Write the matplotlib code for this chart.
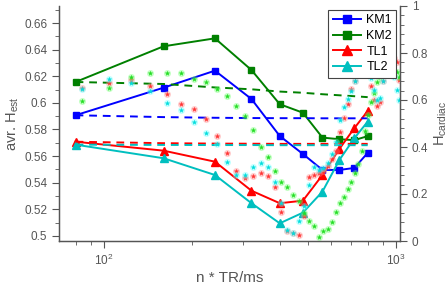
import matplotlib
matplotlib.use("Agg")
import matplotlib.pyplot as plt
from matplotlib.ticker import FixedLocator, MultipleLocator, LogLocator, NullFormatter

plt.rcParams['font.family'] = ['Liberation Sans', 'DejaVu Sans']

# ---- data ----
n_tr = [80, 160, 240, 320, 400, 480, 560, 640, 720, 800]
km1 = [0.5907, 0.6114, 0.6242, 0.6029, 0.5751, 0.5616, 0.5496, 0.5496, 0.5511, 0.5624]
km2 = [0.6157, 0.6425, 0.6485, 0.6247, 0.5990, 0.5926, 0.5739, 0.5727, 0.5720, 0.5750]
tl1 = [0.5708, 0.5641, 0.5558, 0.5340, 0.5246, 0.5265, 0.5458, 0.5654, 0.5810, 0.5939]
tl2 = [0.5686, 0.5584, 0.5458, 0.5246, 0.5095, 0.5175, 0.5333, 0.5571, 0.5734, 0.5859]

km1_mean = [0.5907, 0.5893, 0.5888, 0.5886, 0.5885, 0.5885, 0.5884, 0.5884, 0.5884, 0.5884]
km2_mean = [0.6157, 0.6142, 0.6116, 0.6102, 0.6085, 0.6076, 0.6065, 0.6057, 0.6050, 0.6043]
tl1_mean = [0.5708, 0.5697, 0.5694, 0.5693, 0.5692, 0.5692, 0.5692, 0.5692, 0.5692, 0.5692]
tl2_mean = [0.5686, 0.5684, 0.5683, 0.5683, 0.5682, 0.5682, 0.5682, 0.5682, 0.5682, 0.5682]

t_card = [84, 104, 124, 144, 164, 184, 204, 224, 244, 264, 284, 304, 324, 344, 364, 384,
          404, 424, 444, 464, 484, 504, 524, 544, 564, 584, 604, 624, 644, 664, 684, 704,
          724, 744, 764, 784, 804, 824, 844, 864, 884, 904, 924, 944, 964, 984, 1004, 1024]
h_green = [0.597, 0.650, 0.699, 0.716, 0.714, 0.716, 0.689, 0.675, 0.646, 0.617, 0.574, 0.532,
           0.472, 0.399, 0.356, 0.299, 0.252, 0.231, 0.196, 0.170, 0.120, 0.085, 0.064, 0.018,
           0.043, 0.050, 0.082, 0.125, 0.160, 0.189, 0.220, 0.252, 0.288, 0.326, 0.384, 0.470,
           0.536, 0.593, 0.628, 0.678, 0.700, 0.720, 0.740, 0.740, 0.730, 0.725, 0.720, 0.699]
h_red = [0.652, 0.674, 0.685, 0.660, 0.627, 0.585, 0.563, 0.520, 0.447, 0.373, 0.300, 0.267,
         0.277, 0.288, 0.277, 0.229, 0.125, 0.044, 0.035, 0.026, 0.106, 0.271, 0.281, 0.290,
         0.300, 0.320, 0.350, 0.383, 0.465, 0.522, 0.583, 0.645, 0.682, 0.720, 0.740, 0.740,
         0.720, 0.660, 0.600, 0.574, 0.593, 0.681, 0.720, 0.750, 0.770, 0.780, 0.763, 0.683]
h_cyan = [0.645, 0.688, 0.673, 0.640, 0.589, 0.557, 0.505, 0.461, 0.411, 0.337, 0.281, 0.281,
          0.314, 0.331, 0.314, 0.252, 0.163, 0.047, 0.035, 0.085, 0.150, 0.240, 0.314, 0.302,
          0.310, 0.330, 0.370, 0.420, 0.515, 0.571, 0.604, 0.640, 0.680, 0.720, 0.740, 0.730,
          0.720, 0.695, 0.643, 0.600, 0.610, 0.680, 0.720, 0.740, 0.750, 0.700, 0.643, 0.600]

# ---- figure ----
fig = plt.figure(figsize=(4.48, 2.88), dpi=100)
ax = fig.add_axes([59/448, 1-241/288, 341/448, 235/288])
ax2 = ax.twinx()

axcol = '#555555'
txtcol = '#555555'

c_km1, c_km2, c_tl1, c_tl2 = '#0000ff', '#008000', '#ff0000', '#00bfbf'

h1, = ax.plot(n_tr, km1, '-s', color=c_km1, lw=1.4, ms=5, label='KM1')
h2, = ax.plot(n_tr, km2, '-s', color=c_km2, lw=1.4, ms=5, label='KM2')
h3, = ax.plot(n_tr, tl1, '-^', color=c_tl1, lw=1.4, ms=6, label='TL1')
h4, = ax.plot(n_tr, tl2, '-^', color=c_tl2, lw=1.4, ms=6, label='TL2')
for vals, c in [(km1_mean, c_km1), (km2_mean, c_km2), (tl1_mean, c_tl1), (tl2_mean, c_tl2)]:
    ax.plot(n_tr, vals, '--', color=c, lw=1.4, dashes=(4, 3))

for vals, glow, core in [(h_red, '#ff8080', '#ff3333'),
                         (h_green, '#66ff66', '#22dd22'),
                         (h_cyan, '#66ffff', '#00dddd')]:
    ax2.plot(t_card, vals, ls='none', marker='o', ms=5, color=glow, alpha=0.4, mew=0)
    ax2.plot(t_card, vals, ls='none', marker='*', ms=3.2, color=core, mew=0.3)

ax.set_xscale('log')
ax.set_xlim(70.2, 1032)
ax.set_ylim(0.4962, 0.6728)
ax2.set_ylim(0, 1)

ax.yaxis.set_major_locator(FixedLocator([0.5, 0.52, 0.54, 0.56, 0.58, 0.6, 0.62, 0.64, 0.66]))
ax.yaxis.set_minor_locator(MultipleLocator(0.01))
ax.set_yticklabels(['0.5', '0.52', '0.54', '0.56', '0.58', '0.6', '0.62', '0.64', '0.66'])
ax2.yaxis.set_major_locator(FixedLocator([0, 0.2, 0.4, 0.6, 0.8, 1.0]))
ax2.set_yticklabels(['0', '0.2', '0.4', '0.6', '0.8', '1'])
ax2.yaxis.set_minor_locator(MultipleLocator(0.04))
ax.xaxis.set_major_locator(LogLocator(base=10, numticks=5))
ax.xaxis.set_minor_locator(LogLocator(base=10, subs=range(2, 10), numticks=10))
ax.xaxis.set_minor_formatter(NullFormatter())

for a in (ax, ax2):
    for s in a.spines.values():
        s.set_color(axcol)
        s.set_linewidth(0.9)
    a.spines['top'].set_visible(False)
    a.tick_params(which='both', direction='out', colors=axcol, labelcolor=txtcol, labelsize=8.5)
    a.tick_params(which='major', length=5)
    a.tick_params(which='minor', length=3)

ax.set_xlabel('n * TR/ms', fontsize=11, color=txtcol, labelpad=2)
ax.set_ylabel('avr. H$_{\\mathregular{est}}$', fontsize=10.5, color=txtcol, labelpad=2)
ax2.set_ylabel('H$_{\\mathregular{cardiac}}$', fontsize=10.5, color=txtcol, rotation=90, labelpad=3)

leg = ax2.legend([h1, h2, h3, h4], ['KM1', 'KM2', 'TL1', 'TL2'], loc='upper right',
                 fontsize=9, frameon=True, fancybox=False, borderaxespad=0.3,
                 handlelength=2.3, labelspacing=0.3, borderpad=0.35, handletextpad=0.4,
                 markerscale=1.15)
leg.get_frame().set_edgecolor('#444444')
leg.get_frame().set_linewidth(0.8)
leg.get_frame().set_alpha(1)

fig.savefig('out.png', dpi=100)
